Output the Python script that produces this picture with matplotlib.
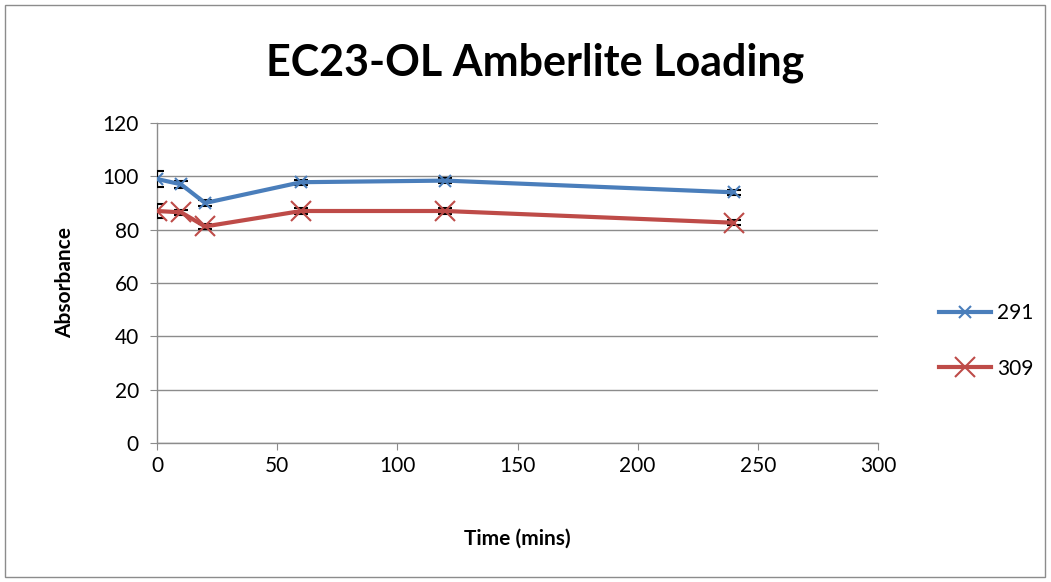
import matplotlib.pyplot as plt
from matplotlib.patches import Rectangle
from matplotlib.lines import Line2D

plt.rcParams['font.family'] = ['Lato', 'DejaVu Sans']

# data
time_mins = [0, 10, 20, 60, 120, 240]
abs_291 = [99.0, 97.0, 90.0, 97.8, 98.4, 94.0]
err_291 = [3.0, 1.2, 1.2, 1.0, 1.0, 1.0]
abs_309 = [87.0, 86.5, 81.2, 87.0, 87.0, 82.6]
err_309 = [2.5, 1.0, 1.0, 1.0, 1.0, 1.0]

fig = plt.figure(figsize=(10.51, 5.82), dpi=100)
ax = fig.add_axes([157 / 1051, 1 - 443 / 582, (878 - 157) / 1051, (443 - 123) / 582])

# outer chart border
fig.patches.append(Rectangle((5 / 1051, 5 / 582), 1040 / 1051, 572 / 582,
                             transform=fig.transFigure, fill=False,
                             edgecolor='#8c8c8c', linewidth=1))

ax.errorbar(time_mins, abs_291, yerr=err_291, color='#4a7ebb', linewidth=3,
            marker='x', markersize=9, markeredgewidth=1.5, ecolor='black',
            elinewidth=1.5, capsize=5, capthick=1.5, label='291', zorder=3)
ax.errorbar(time_mins, abs_309, yerr=err_309, color='#be4b48', linewidth=3,
            marker='x', markersize=14, markeredgewidth=1.5, ecolor='black',
            elinewidth=1.5, capsize=5, capthick=1.5, label='309', zorder=3)

ax.set_xlim(0, 300)
ax.set_ylim(0, 120)
ax.set_xticks(range(0, 301, 50))
ax.set_yticks(range(0, 121, 20))
ax.grid(axis='y', color='#8c8c8c', linewidth=1)
ax.set_axisbelow(True)
for s in ['top', 'right']:
    ax.spines[s].set_visible(False)
for s in ['left', 'bottom']:
    ax.spines[s].set_color('#8c8c8c')
    ax.spines[s].set_linewidth(1)
ax.tick_params(axis='both', labelsize=15, color='#8c8c8c', length=5)
ax.tick_params(axis='x', pad=4)
ax.tick_params(axis='y', pad=8)

ax.set_xlabel('Time (mins)', fontsize=15, fontweight='bold', labelpad=38)
ax.set_ylabel('Absorbance', fontsize=15, fontweight='bold', labelpad=20)
fig.text(535 / 1051, 1 - 63 / 582, 'EC23-OL Amberlite Loading', fontsize=31,
         fontweight='bold', ha='center', va='center')

handles = [Line2D([], [], color='#4a7ebb', linewidth=3, marker='x', markersize=9,
                  markeredgewidth=1.5),
           Line2D([], [], color='#be4b48', linewidth=3, marker='x', markersize=14,
                  markeredgewidth=1.5)]
fig.legend(handles, ['291', '309'], loc='center left',
           bbox_to_anchor=(920 / 1051, 1 - 341 / 582), frameon=False,
           fontsize=15, handlelength=2.5, labelspacing=1.7, handletextpad=0.3)

fig.savefig('out.png', dpi=100)
